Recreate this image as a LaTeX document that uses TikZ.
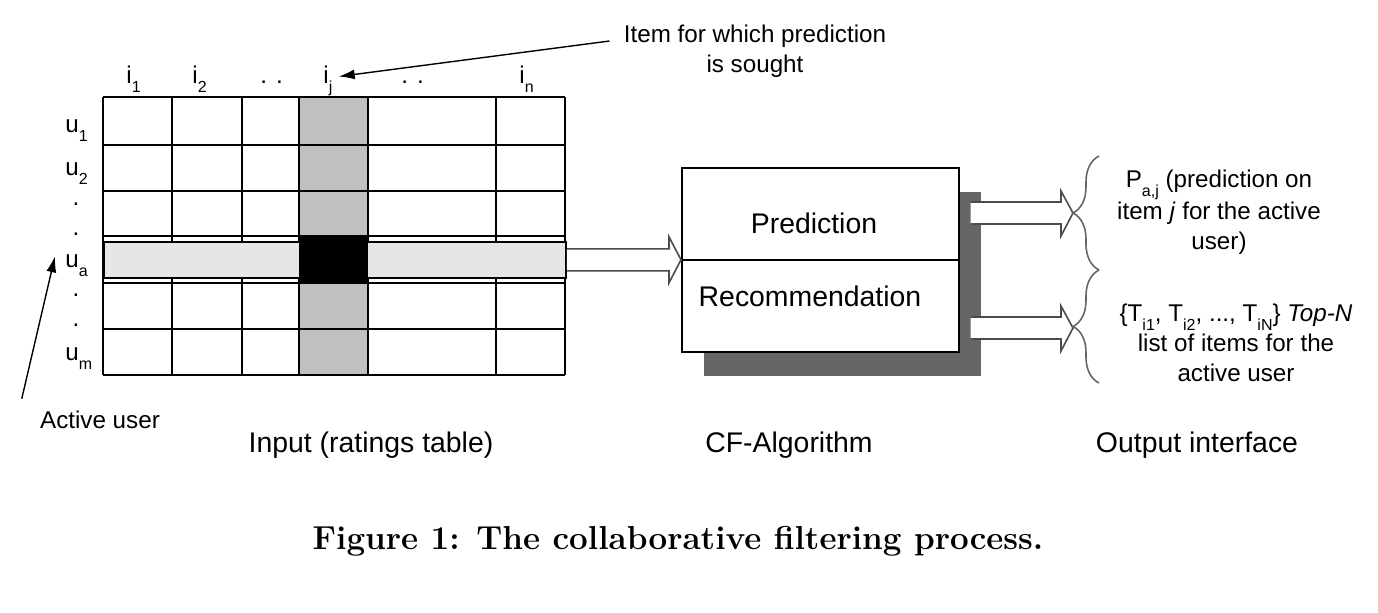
\documentclass[tikz,border=0pt]{standalone}
\usepackage{amsmath}
\usepackage{fontspec}
\setsansfont{Liberation Sans}
\usepackage{tikz}
\usetikzlibrary{positioning, calc, arrows.meta, shadows, decorations.pathreplacing}

\definecolor{colgrey}{RGB}{192,192,192}
\definecolor{bandgrey}{RGB}{230,230,230}
\definecolor{shadowgrey}{RGB}{102,102,102}
\newcommand{\lo}[1]{\raisebox{-0.38em}{\fontsize{8}{8}\selectfont #1}}

\tikzset{
	lbl/.style={font=\sffamily\fontsize{12.1}{15}\selectfont, inner sep=0pt},
	bigtxt/.style={font=\sffamily\fontsize{14.2}{17}\selectfont, inner sep=0pt},
	cell/.style={draw=black, line width=0.9pt},
	fatarrow/.style={draw=black!70, line width=0.8pt, fill=white, line join=miter},
	pointer/.style={-{Latex[length=8pt,width=5pt]}, line width=0.7pt},
	curly/.style={draw=black!60, line width=0.8pt, decorate,
		decoration={brace, amplitude=13pt}}
}

\begin{document}
\begin{tikzpicture}[x=0.5pt, y=-0.5pt]
	\useasboundingbox (0,0) rectangle (1378,612);
	% ratings table
	\fill [colgrey] (299,97) rectangle (368,375);
	\foreach \x in {103,172,242,299,368,496,565}
		\draw [cell] (\x,97) -- (\x,375);
	\foreach \y in {97,145,191,236,283,329,375}
		\draw [cell] (103,\y) -- (565,\y);
	\node (band) [cell, fill=bandgrey, anchor=north west, inner sep=0pt,
		minimum width=231pt, minimum height=18pt] at (103,241) {};
	\fill (299,236) rectangle (368,283);
	% item labels
	\node (i1) [lbl, anchor=base west] at (126,83) {i\lo{1}};
	\node (i2) [lbl, anchor=base west] at (192,83) {i\lo{2}};
	\node (id1) [lbl, anchor=base west] at (260,83) {. .};
	\node (ij) [lbl, anchor=base west] at (323,83) {i\lo{j}};
	\node (id2) [lbl, anchor=base west] at (401,83) {. .};
	\node (in) [lbl, anchor=base west] at (519,83) {i\lo{n}};
	% user labels
	\node (u1) [lbl, anchor=base west] at (65,132) {u\lo{1}};
	\node (u2) [lbl, anchor=base west] at (65,175) {u\lo{2}};
	\node (ua) [lbl, anchor=base west] at (65,267) {u\lo{a}};
	\node (um) [lbl, anchor=base west] at (65,360) {u\lo{m}};
	\foreach \y in {205,235,296,326}
		\node [lbl, anchor=base] at (76,\y) {.};
	% pointers
	\node (sought) [lbl, align=center] at (755,51) {Item for which prediction\\is sought};
	\draw [pointer] ($(sought.west)+(-14,-10)$) -- ([shift={(3pt,2pt)}]ij.east);
	\node (active) [lbl] at (100,420) {Active user};
	\draw [pointer] ($(active.north west)+(-18,-12)$) -- ($(ua.west)+(-10,-9)$);
	% CF algorithm
	\node (cf) [draw, line width=0.8pt, fill=white, anchor=north west,
		minimum width=138.5pt, minimum height=92pt,
		drop shadow={shadow xshift=11pt, shadow yshift=-12pt, fill=shadowgrey, opacity=1}]
		at (681,167) {};
	\draw [line width=0.8pt] (cf.west) -- (cf.east);
	\node (pred) [bigtxt, anchor=base] at (814,233) {Prediction};
	\node (rec) [bigtxt, anchor=base] at (810,306) {Recommendation};
	\filldraw [fatarrow] ($(band.east)+(0,-11)$) -- ($(cf.west)+(-12,-11)$)
		-- ($(cf.west)+(-12,-23)$) -- (cf.west) -- ($(cf.west)+(-12,23)$)
		-- ($(cf.west)+(-12,11)$) -- ($(band.east)+(0,11)$);
	% output
	\coordinate (ptip) at (1073,213);
	\coordinate (rtip) at (1073,328);
	\foreach \t in {ptip,rtip}
		\filldraw [fatarrow] ($(cf.east |- \t)+(11,-11)$) -- ($(\t)+(-12,-11)$)
			-- ($(\t)+(-12,-22)$) -- (\t) -- ($(\t)+(-12,23)$)
			-- ($(\t)+(-12,11)$) -- ($(cf.east |- \t)+(11,11)$);
	\draw [curly] (1099,270) -- (1099,156);
	\draw [curly] (1099,383) -- (1099,270);
	\node (pout) [lbl, align=center] at (1219,212)
		{P\lo{a,j} (prediction on\\item \textit{j} for the active\\user)};
	\node (rout) [lbl, align=center] at (1236,343)
		{\{T\lo{i1}, T\lo{i2}, ..., T\lo{iN}\} \textit{Top-N}\\list of items for the\\active user};
	% captions
	\node (input) [bigtxt] at (371,445) {Input (ratings table)};
	\node (algo) [bigtxt] at (789,445) {CF-Algorithm};
	\node (output) [bigtxt] at (1197,445) {Output interface};
	\node (fig) [font=\fontsize{16.6}{20}\selectfont\bfseries] at (678,541)
		{Figure 1: The collaborative filtering process.};
\end{tikzpicture}
\end{document}
